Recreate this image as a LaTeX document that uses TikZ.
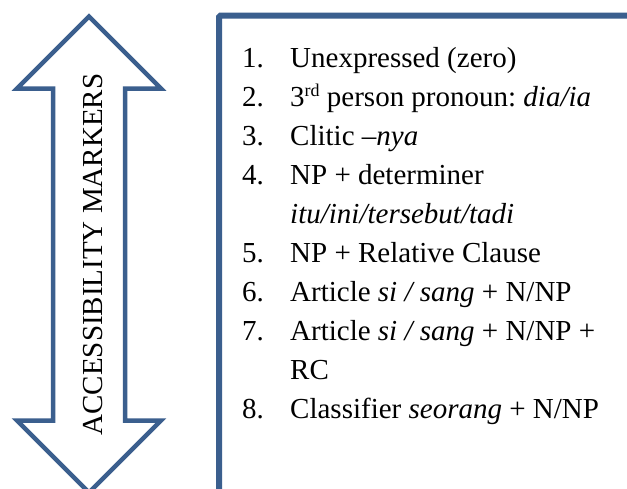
\documentclass[tikz,border=0pt]{standalone}
\usepackage{fontspec}
\setmainfont{Liberation Serif}
\frenchspacing
\definecolor{frameblue}{HTML}{3B5F8E}
\begin{document}
\begin{tikzpicture}[x=1pt,y=-1pt,
  txt/.style={anchor=base west, inner sep=0pt, font=\fontsize{29}{35}\selectfont},
  arrowline/.style={draw=frameblue, fill=white, line width=4.5pt, line join=miter},
  boxline/.style={draw=frameblue, line width=6pt, rounded corners=1.5pt}]
\useasboundingbox (0,0) rectangle (627,488);
\clip (0,0) rectangle (627,488);
\fill[white] (0,0) rectangle (627,488);
% double arrow
\path[arrowline] (89,16.5) -- (161,88.5) -- (125,88.5) -- (125,420.5) -- (161,420.5)
  -- (89,492.5) -- (17,420.5) -- (53,420.5) -- (53,88.5) -- (17,88.5) -- cycle;
\node[anchor=base, inner sep=0pt, rotate=90, font=\fontsize{29}{35}\selectfont] (lbl) at (102,254.5) {ACCESSIBILITY MARKERS};
% box
\coordinate (bl) at (219,530);
\coordinate (tl) at (219,15.7);
\coordinate (tr) at (680,15.7);
\draw[boxline] (bl) -- (tl) -- (tr);
% list
\node[txt] (n1) at (242,67) {1.};
\node[txt] (t1) at (290,67) {Unexpressed (zero)};
\node[txt] (n2) at (242,106) {2.};
\node[txt] (t2) at (290,106) {3{\fontsize{18}{20}\selectfont\raisebox{10pt}{rd}} person pronoun: \textit{dia/ia}};
\node[txt] (n3) at (242,145) {3.};
\node[txt] (t3) at (290,145) {Clitic \textit{–nya}};
\node[txt] (n4) at (242,184) {4.};
\node[txt] (t4) at (290,184) {NP + determiner};
\node[txt] (t4b) at (290,223) {\textit{itu/ini/tersebut/tadi}};
\node[txt] (n5) at (242,262) {5.};
\node[txt] (t5) at (290,262) {NP + Relative Clause};
\node[txt] (n6) at (242,301) {6.};
\node[txt] (t6) at (290,301) {Article \textit{si / sang} + N/NP};
\node[txt] (n7) at (242,340) {7.};
\node[txt] (t7) at (290,340) {Article \textit{si / sang} + N/NP +};
\node[txt] (t7b) at (290,379) {RC};
\node[txt] (n8) at (242,418) {8.};
\node[txt] (t8) at (290,418) {Classifier \textit{seorang} + N/NP};
\end{tikzpicture}
\end{document}
